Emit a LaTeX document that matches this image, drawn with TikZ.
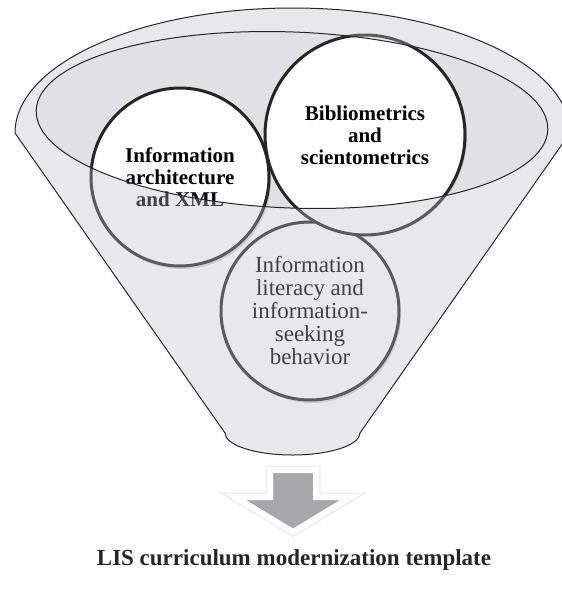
\documentclass[tikz,border=0pt]{standalone}
\usepackage{fontspec}
\setmainfont{Liberation Serif}
\newlength{\du}
\setlength{\du}{1pt}

\begin{document}
\begin{tikzpicture}[
  topicbold/.style={circle,inner sep=0pt,align=center,font=\fontsize{21}{22}\selectfont\bfseries},
  topicplain/.style={circle,inner sep=0pt,align=center,font=\fontsize{23}{23}\selectfont},
  ringline/.style={line width=3\du,draw=ringdark,fill=white},
  dropshade/.style={fill=black,opacity=0.16}]
\pgftransformxscale{1.000000}
\pgftransformyscale{-1.000000}
\useasboundingbox (0\du,0\du) rectangle (562\du,590\du);
\definecolor{ringdark}{rgb}{0.150000, 0.150000, 0.150000}
\definecolor{mouthgray}{rgb}{0.880000, 0.884000, 0.895000}
\definecolor{funnelgray}{rgb}{0.740000, 0.745000, 0.765000}
\definecolor{arrowgray}{rgb}{0.660000, 0.660000, 0.670000}
% mouth of the funnel
\fill[mouthgray] (292\du,120\du) circle [x radius=256\du,y radius=88\du,rotate=2.2];
% the three circles
\fill[dropshade] (312\du,314\du) circle (89\du);
\node[topicplain,ringline,minimum size=178\du] (literacy) at (310\du,311\du) {Information\\literacy and\\information-\\seeking\\behavior};
\fill[dropshade] (182\du,180\du) circle (89\du);
\node[topicbold,ringline,minimum size=178\du] (arch) at (180\du,177\du) {Information\\architecture\\and XML};
\fill[dropshade] (367\du,136\du) circle (100\du);
\node[topicbold,ringline,minimum size=200\du] (biblio) at (365\du,135\du) {Bibliometrics\\and\\scientometrics};
% funnel body over the circles
\draw[line width=1\du,draw=black!85,fill=funnelgray,fill opacity=0.35,even odd rule,line join=round]
  (15\du,133\du) arc[start angle=180,end angle=360,x radius=277.5\du,y radius=125\du]
  -- (360\du,433\du) arc[start angle=0,end angle=180,x radius=67.5\du,y radius=22\du] -- cycle
  (292\du,120\du) circle [x radius=256\du,y radius=88\du,rotate=2.2];
% block arrow
\draw[line width=9\du,draw=black!7,line join=miter] (270\du,470\du) -- (316\du,470\du) -- (316\du,497\du) -- (351\du,497\du) -- (293\du,532\du) -- (235\du,497\du) -- (270\du,497\du) -- cycle;
\draw[line width=6\du,draw=white,fill=arrowgray,line join=miter] (270\du,470\du) -- (316\du,470\du) -- (316\du,497\du) -- (351\du,497\du) -- (293\du,532\du) -- (235\du,497\du) -- (270\du,497\du) -- cycle;
\node[font=\fontsize{23}{23}\selectfont\bfseries,text=black!85] (template) at (294\du,560\du) {LIS curriculum modernization template};
\end{tikzpicture}
\end{document}
